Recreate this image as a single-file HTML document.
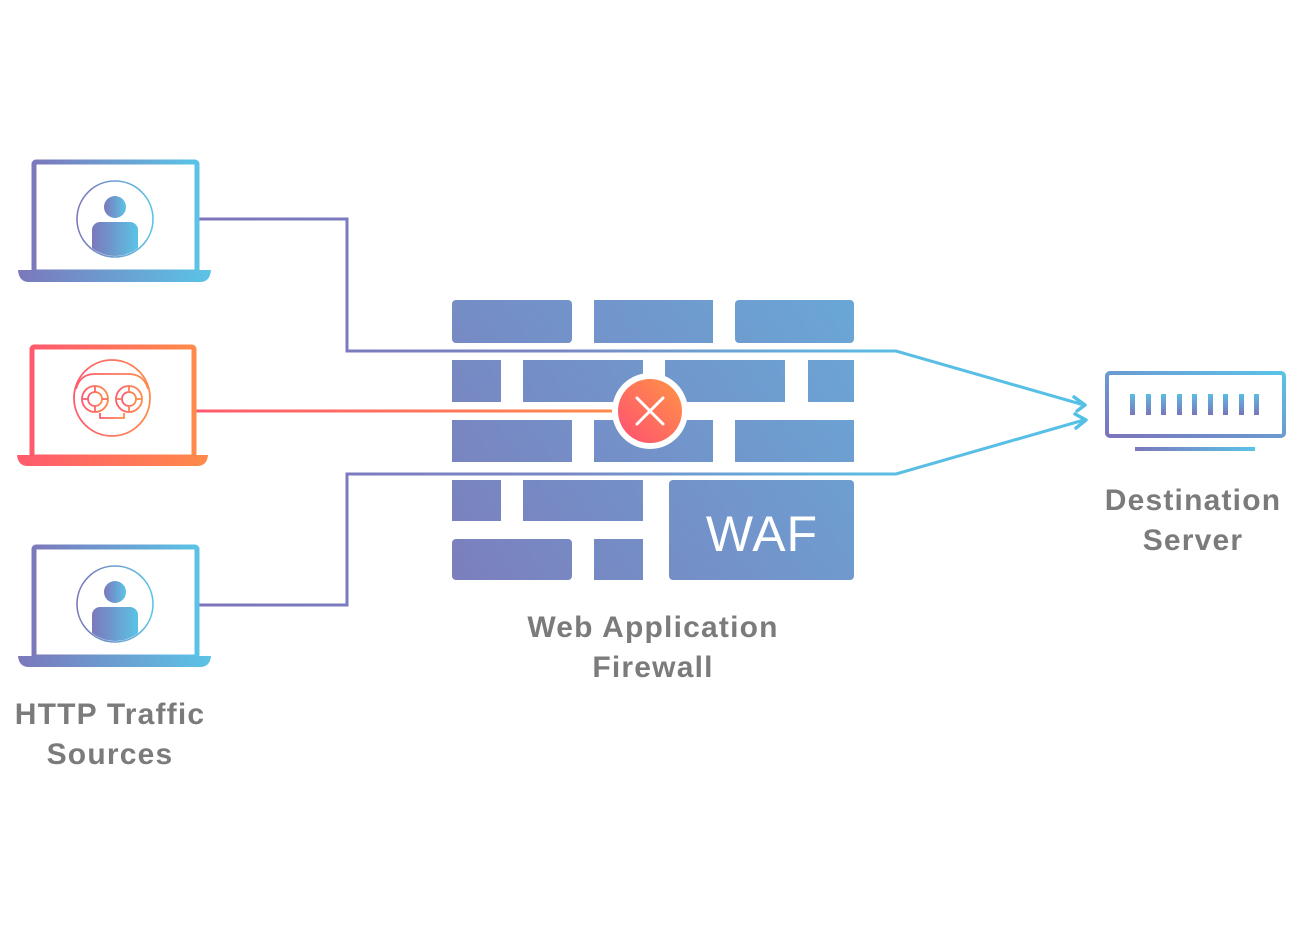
<!DOCTYPE html>
<html><head><meta charset="utf-8"><style>
html,body{margin:0;padding:0;background:#fff;}
svg{display:block;}
text{font-family:"Liberation Sans","DejaVu Sans",sans-serif;font-weight:bold;fill:#7b7b7b;font-size:30px;letter-spacing:1.2px;}
</style></head><body>
<svg width="1300" height="951" viewBox="0 0 1300 951" xmlns="http://www.w3.org/2000/svg">
<defs>
<linearGradient id="pb" x1="0" y1="0" x2="1" y2="0"><stop offset="0" stop-color="#7b78bb"/><stop offset="1" stop-color="#5bc3e6"/></linearGradient>
<linearGradient id="pbl" gradientUnits="userSpaceOnUse" x1="200" y1="0" x2="1090" y2="0"><stop offset="0" stop-color="#7b74bb"/><stop offset="0.4" stop-color="#7a86c4"/><stop offset="0.78" stop-color="#5bbde4"/><stop offset="1" stop-color="#55c0e6"/></linearGradient>
<linearGradient id="or" x1="0" y1="0" x2="1" y2="0"><stop offset="0" stop-color="#ff5a6e"/><stop offset="1" stop-color="#ff8a4a"/></linearGradient>
<linearGradient id="orl" gradientUnits="userSpaceOnUse" x1="195" y1="0" x2="620" y2="0"><stop offset="0" stop-color="#ff5a6e"/><stop offset="1" stop-color="#ff8a4a"/></linearGradient>
<linearGradient id="xr" x1="0" y1="1" x2="1" y2="0"><stop offset="0" stop-color="#ff4f72"/><stop offset="1" stop-color="#ff9545"/></linearGradient>
<linearGradient id="wall" gradientUnits="userSpaceOnUse" x1="452" y1="580" x2="854" y2="300"><stop offset="0" stop-color="#7b7fbd"/><stop offset="1" stop-color="#6aa7d6"/></linearGradient>
<linearGradient id="sv" x1="0" y1="1" x2="1" y2="0"><stop offset="0" stop-color="#7b74bb"/><stop offset="1" stop-color="#5bc3e6"/></linearGradient>
<linearGradient id="bar" x1="0" y1="0" x2="0" y2="1"><stop offset="0" stop-color="#5bbde4"/><stop offset="1" stop-color="#7b74bb"/></linearGradient>
<clipPath id="c1"><circle cx="115" cy="219" r="37"/></clipPath>
<clipPath id="c3"><circle cx="115" cy="604" r="37"/></clipPath>
</defs>

<g fill="url(#wall)">
<rect x="452" y="300" width="120" height="43" rx="4"/>
<rect x="594" y="300" width="119" height="43"/>
<rect x="735" y="300" width="119" height="43" rx="4"/>
<rect x="452" y="360" width="49" height="42"/>
<rect x="523" y="360" width="120" height="42"/>
<rect x="665" y="360" width="120" height="42"/>
<rect x="808" y="360" width="46" height="42"/>
<rect x="452" y="420" width="120" height="42"/>
<rect x="594" y="420" width="119" height="42"/>
<rect x="735" y="420" width="119" height="42"/>
<rect x="452" y="480" width="49" height="41"/>
<rect x="523" y="480" width="120" height="41"/>
<rect x="669" y="480" width="185" height="100" rx="4"/>
<rect x="452" y="539" width="120" height="41" rx="4"/>
<rect x="594" y="539" width="49" height="41"/>
</g>
<text x="762" y="551" text-anchor="middle" style="fill:#fff;font-weight:normal;font-size:50px;letter-spacing:1px">WAF</text>

<g fill="none" stroke="url(#pbl)" stroke-width="3">
<polyline points="199,219 347,219 347,351 896,351 1084,405"/>
<polyline points="199,605 347,605 347,474 896,474 1084,420"/>
</g>
<g fill="none" stroke="#55c0e6" stroke-width="3.5" stroke-linecap="round" stroke-linejoin="round">
<polyline points="1074,397 1085,405 1077,411"/>
<polyline points="1075,414 1086,420 1076,428"/>
</g>
<line x1="195" y1="411" x2="620" y2="411" stroke="url(#orl)" stroke-width="3"/>

<circle cx="650" cy="411" r="38" fill="#fff"/>
<circle cx="650" cy="411" r="32" fill="url(#xr)"/>
<g stroke="#fff" stroke-width="3" stroke-linecap="round"><line x1="637" y1="398" x2="663" y2="424"/><line x1="663" y1="398" x2="637" y2="424"/></g>

<rect x="34" y="162" width="163" height="110" fill="none" stroke="url(#pb)" stroke-width="5" rx="2"/>
<path d="M18 270 H211 Q210 282 200 282 H29 Q19 282 18 270 Z" fill="url(#pb)"/>
<circle cx="115" cy="219" r="38" fill="none" stroke="url(#pb)" stroke-width="1.6"/>
<g clip-path="url(#c1)" fill="url(#pb)"><circle cx="115" cy="207" r="11"/><rect x="92" y="222" width="46" height="40" rx="8"/></g>

<rect x="32" y="347" width="162" height="110" fill="none" stroke="url(#or)" stroke-width="5" rx="2"/>
<path d="M17 455 H208 Q207 466 197 466 H28 Q18 466 17 455 Z" fill="url(#or)"/>
<g fill="none" stroke="url(#or)" stroke-width="1.8">
<circle cx="112" cy="398" r="38"/>
<path d="M76 389 Q80 374 95 374 H128 Q144 374 148 389"/>
<path d="M76 413 H148"/>
<path d="M100 413 V418 H124 V413"/>
<circle cx="95" cy="399" r="13"/><circle cx="95" cy="399" r="7"/>
<circle cx="129" cy="399" r="13"/><circle cx="129" cy="399" r="7"/>
<path d="M95 386 V392 M95 406 V412 M82 399 H88 M102 399 H108 M129 386 V392 M129 406 V412 M116 399 H122 M136 399 H142"/>
</g>

<rect x="34" y="547" width="163" height="110" fill="none" stroke="url(#pb)" stroke-width="5" rx="2"/>
<path d="M18 656 H211 Q210 667 200 667 H29 Q19 667 18 656 Z" fill="url(#pb)"/>
<circle cx="115" cy="604" r="38" fill="none" stroke="url(#pb)" stroke-width="1.6"/>
<g clip-path="url(#c3)" fill="url(#pb)"><circle cx="115" cy="592" r="11"/><rect x="92" y="607" width="46" height="40" rx="8"/></g>

<rect x="1107" y="373" width="177" height="63" rx="3" fill="none" stroke="url(#sv)" stroke-width="4"/>
<g fill="url(#bar)">
<rect x="1130" y="394" width="5" height="21"/><rect x="1146" y="394" width="5" height="21"/><rect x="1161" y="394" width="5" height="21"/><rect x="1177" y="394" width="5" height="21"/><rect x="1192" y="394" width="5" height="21"/><rect x="1208" y="394" width="5" height="21"/><rect x="1223" y="394" width="5" height="21"/><rect x="1239" y="394" width="5" height="21"/><rect x="1254" y="394" width="5" height="21"/>
</g>
<rect x="1135" y="447" width="120" height="4" fill="url(#pb)"/>

<text x="110" y="724" text-anchor="middle">HTTP Traffic</text>
<text x="110" y="764" text-anchor="middle">Sources</text>
<text x="653" y="637" text-anchor="middle">Web Application</text>
<text x="653" y="677" text-anchor="middle">Firewall</text>
<text x="1193" y="510" text-anchor="middle">Destination</text>
<text x="1193" y="550" text-anchor="middle">Server</text>
</svg>
</body></html>
